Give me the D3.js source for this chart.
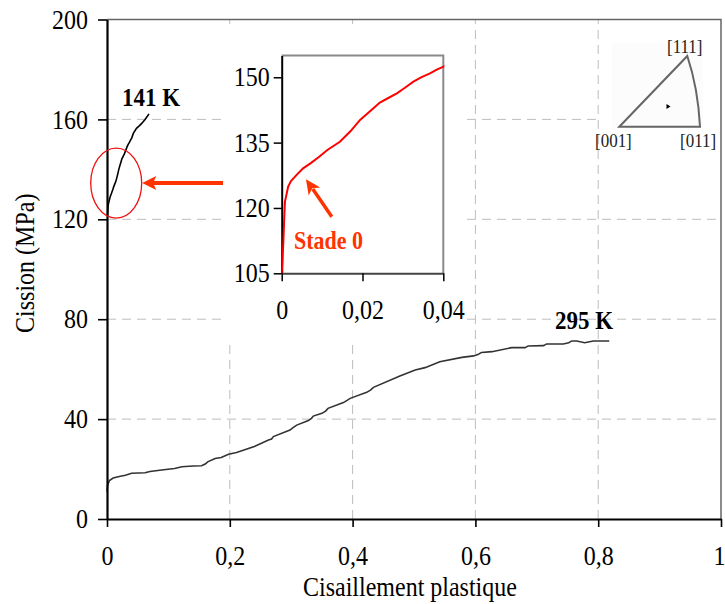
<!DOCTYPE html>
<html>
<head>
<meta charset="utf-8">
<script src="https://cdn.jsdelivr.net/npm/d3@7"></script>
<style>
  html, body { margin: 0; padding: 0; background: #fff; }
  svg { display: block; font-family: "Liberation Serif", "Times New Roman", serif; }
  svg text { transform-box: fill-box; transform-origin: center; transform: scaleY(1.12); }
</style>
</head>
<body>
<svg id="chart" width="725" height="604"></svg>
<script>
// Shear stress vs plastic shear strain at two temperatures
const xTicks = [0, 0.2, 0.4, 0.6, 0.8, 1];
const yTicks = [0, 40, 80, 120, 160, 200];

// 295 K curve
const strain295 = [0, 0.001, 0.004, 0.010, 0.020, 0.030, 0.040, 0.062, 0.070, 0.089, 0.110, 0.122, 0.140, 0.154, 0.160, 0.164,
  0.176, 0.186, 0.198, 0.211, 0.240, 0.263, 0.268, 0.271, 0.298, 0.303, 0.309, 0.328, 0.333, 0.336, 0.350, 0.356, 0.360,
  0.385, 0.391, 0.396, 0.423, 0.429, 0.434, 0.477, 0.502, 0.518, 0.542, 0.578, 0.597, 0.605, 0.610, 0.627, 0.659, 0.681,
  0.686, 0.711, 0.716, 0.743, 0.752, 0.757, 0.765, 0.778, 0.792, 0.818];
const stress295 = [11.0, 13.5, 15.4, 16.4, 17.0, 17.5, 18.3, 18.5, 19.0, 19.6, 20.2, 20.9, 21.2, 21.3, 22.0, 22.9,
  24.2, 24.6, 25.9, 26.6, 29.0, 31.6, 32.0, 33.0, 35.6, 36.6, 37.6, 39.4, 40.3, 41.2, 42.3, 43.2, 44.3,
  46.6, 47.5, 48.3, 50.7, 51.6, 52.7, 57.3, 59.7, 60.6, 63.0, 64.7, 65.3, 66.0, 66.7, 67.0, 68.6, 68.6,
  69.3, 69.4, 70.1, 70.1, 70.6, 71.3, 71.3, 70.6, 71.3, 71.3];

// 141 K curve (also shown magnified in the inset)
const strain141 = [0, 0.0002, 0.0004, 0.0006, 0.0008, 0.0016, 0.0023, 0.0037, 0.0053, 0.0072, 0.0092, 0.0113, 0.0144,
  0.0170, 0.0194, 0.0220, 0.0243, 0.0265, 0.0285, 0.0305, 0.0326, 0.0345, 0.0367, 0.0385, 0.0402, 0.0429, 0.0480,
  0.0525, 0.0565, 0.0620, 0.0684];
const stress141 = [105, 108, 112, 117, 121.4, 124.9, 126.2, 127.6, 129.1, 130.3, 131.7, 133.3, 135.2,
  137.6, 140.2, 142.3, 144.2, 145.3, 146.3, 147.6, 149.0, 150.0, 150.9, 151.8, 152.5, 154.4, 156.4,
  157.4, 158.4, 160.0, 162.2];

// Inset axes
const insetXTicks = [0, 0.02, 0.04];
const insetYTicks = [105, 120, 135, 150];

const fmt = d => String(d).replace('.', ',');

const svg = d3.select('#chart');
const x = d3.scaleLinear().domain([0, 1]).range([107, 721]);
const y = d3.scaleLinear().domain([0, 200]).range([519, 19.5]);

// grid
const grid = svg.append('g').attr('stroke', '#bdbdbd').attr('stroke-width', 1).attr('stroke-dasharray', '9,6');
grid.selectAll('line.h').data(yTicks.filter(v => v > 0 && v < 200)).join('line')
  .attr('x1', x(0)).attr('x2', x(1)).attr('y1', d => y(d)).attr('y2', d => y(d));
grid.selectAll('line.v').data(xTicks.filter(v => v > 0 && v < 1)).join('line')
  .attr('y1', y(0)).attr('y2', y(200)).attr('x1', d => x(d)).attr('x2', d => x(d));

// frame top / right
svg.append('path').attr('fill', 'none').attr('stroke', '#666').attr('stroke-width', 1.5)
  .attr('d', `M${x(0)},${y(200)}H${x(1)}V${y(0)}`);

const line = (sx, sy) => d3.line().x(d => sx(d[0])).y(d => sy(d[1]));
const pts295 = strain295.map((v, i) => [v, stress295[i]]);
const pts141 = strain141.map((v, i) => [v, stress141[i]]);

svg.append('path').datum(pts295).attr('fill', 'none').attr('stroke', '#333').attr('stroke-width', 1.6)
  .attr('d', line(x, y));
svg.append('path').datum(pts141.filter(d => d[1] >= 120)).attr('fill', 'none').attr('stroke', '#000').attr('stroke-width', 1.6)
  .attr('d', line(x, y));

// axes
const fontSize = 24;
const yAxis = svg.append('g').attr('transform', `translate(${x(0)},0)`)
  .call(d3.axisLeft(y).tickValues(yTicks).tickSize(9).tickPadding(10).tickSizeOuter(0).tickFormat(fmt));
const xAxis = svg.append('g').attr('transform', `translate(0,${y(0)})`)
  .call(d3.axisBottom(x).tickValues(xTicks).tickSize(8).tickPadding(20).tickSizeOuter(0).tickFormat(fmt));
[yAxis, xAxis].forEach(g => {
  g.select('.domain').attr('stroke', '#000').attr('stroke-width', 2.2);
  g.selectAll('.tick line').attr('stroke', '#000').attr('stroke-width', 1.6);
  g.selectAll('text').attr('font-family', 'Liberation Serif').attr('font-size', fontSize).attr('fill', '#000');
});
// keep the last x label inside the page
xAxis.selectAll('.tick text').filter(d => d === 1).attr('text-anchor', 'end').attr('x', 4);

svg.append('g').attr('transform', `translate(33,${(y(0) + y(200)) / 2 - 6}) rotate(-90)`)
  .append('text').attr('text-anchor', 'middle').attr('font-size', fontSize).text('Cission (MPa)');
svg.append('text').attr('x', (x(0) + x(1)) / 2 - 4).attr('y', 595)
  .attr('text-anchor', 'middle').attr('font-size', fontSize).text('Cisaillement plastique');

// curve labels
svg.append('text').attr('x', 122).attr('y', 105).attr('font-weight', 'bold').attr('font-size', 23).text('141 K');
svg.append('text').attr('x', 555).attr('y', 328).attr('font-weight', 'bold').attr('font-size', 23).text('295 K');

// highlight ellipse + arrow to the inset
const accent = '#ff3300';
const ecx = x(0.015), ecy = y(134.5);
svg.append('ellipse').attr('cx', ecx).attr('cy', ecy).attr('rx', 25.5).attr('ry', 35)
  .attr('fill', 'none').attr('stroke', '#f01010').attr('stroke-width', 1.3);
svg.append('line').attr('x1', 223).attr('x2', ecx + 36).attr('y1', ecy).attr('y2', ecy)
  .attr('stroke', accent).attr('stroke-width', 4);
svg.append('path').attr('fill', accent)
  .attr('d', `M${ecx + 26},${ecy}L${ecx + 40},${ecy - 7}L${ecx + 37},${ecy}L${ecx + 40},${ecy + 7}Z`);

// inset
const ix = d3.scaleLinear().domain([0, 0.04]).range([281.7, 443.3]);
const iy = d3.scaleLinear().domain([105, 155]).range([273.3, 55.5]);
svg.append('rect').attr('x', 223).attr('y', 27).attr('width', 243).attr('height', 314).attr('fill', '#fff');
svg.append('path').attr('fill', 'none').attr('stroke', '#8a8a8a').attr('stroke-width', 2)
  .attr('d', `M${ix(0)},${iy(155)}H${ix(0.04)}V${iy(105)}`);
svg.append('clipPath').attr('id', 'insetClip').append('rect')
  .attr('x', ix(0)).attr('y', iy(155)).attr('width', ix(0.04) - ix(0) + 1).attr('height', iy(105) - iy(155));
const iyAxis = svg.append('g').attr('transform', `translate(${ix(0)},0)`)
  .call(d3.axisLeft(iy).tickValues(insetYTicks).tickSize(8).tickPadding(4).tickSizeOuter(0).tickFormat(fmt));
const ixAxis = svg.append('g').attr('transform', `translate(0,${iy(105)})`)
  .call(d3.axisBottom(ix).tickValues(insetXTicks).tickSize(8).tickPadding(20).tickSizeOuter(0).tickFormat(fmt));
iyAxis.select('.domain').attr('stroke', '#000').attr('stroke-width', 2);
ixAxis.select('.domain').attr('stroke', '#444').attr('stroke-width', 2);
[iyAxis, ixAxis].forEach(g => {
  g.selectAll('.tick line').attr('stroke', '#000').attr('stroke-width', 1.5);
  g.selectAll('text').attr('font-family', 'Liberation Serif').attr('font-size', fontSize).attr('fill', '#000');
});
svg.append('path').datum(pts141).attr('clip-path', 'url(#insetClip)')
  .attr('fill', 'none').attr('stroke', '#ff0000').attr('stroke-width', 2).attr('d', line(ix, iy));

// "Stade 0" pointer
const tx = ix(0.006), ty = iy(126.6), sx0 = ix(0.0124), sy0 = iy(118);
const ang = Math.atan2(ty - sy0, tx - sx0);
const hl = 15, hw = 7;
const bx = tx - hl * Math.cos(ang), by = ty - hl * Math.sin(ang);
svg.append('line').attr('x1', sx0).attr('y1', sy0).attr('x2', bx + 3 * Math.cos(ang)).attr('y2', by + 3 * Math.sin(ang))
  .attr('stroke', accent).attr('stroke-width', 3.5);
svg.append('path').attr('fill', accent).attr('d',
  `M${tx},${ty}L${bx - hw * Math.sin(ang)},${by + hw * Math.cos(ang)}L${bx + 4 * Math.cos(ang)},${by + 4 * Math.sin(ang)}L${bx + hw * Math.sin(ang)},${by - hw * Math.cos(ang)}Z`);
svg.append('text').attr('x', 294).attr('y', 248).attr('font-weight', 'bold').attr('font-size', 22)
  .attr('fill', accent).text('Stade 0');

// stereographic triangle
const tri = svg.append('g');
tri.append('rect').attr('x', 599).attr('y', 22).attr('width', 120).attr('height', 128).attr('fill', '#fff');
tri.append('rect').attr('x', 612).attr('y', 43).attr('width', 91).attr('height', 84).attr('fill', '#fcfcfc');
const p001 = [619.3, 126.7], p011 = [700, 126.7], p111 = [687.3, 56];
tri.append('path').attr('fill', 'none').attr('stroke', '#666').attr('stroke-width', 2)
  .attr('d', `M${p001}L${p111}Q${698},${88} ${p011}Z`);
tri.append('path').attr('fill', '#000').attr('d', 'M666.5,104L670.5,106.5L666.5,109Z');
tri.selectAll('text').data([
  { t: '[111]', x: 667, y: 52 },
  { t: '[001]', x: 595, y: 146 },
  { t: '[011]', x: 680, y: 146 }
]).join('text').attr('x', d => d.x).attr('y', d => d.y).attr('font-size', 17).attr('fill', '#222').text(d => d.t);
</script>
</body>
</html>
